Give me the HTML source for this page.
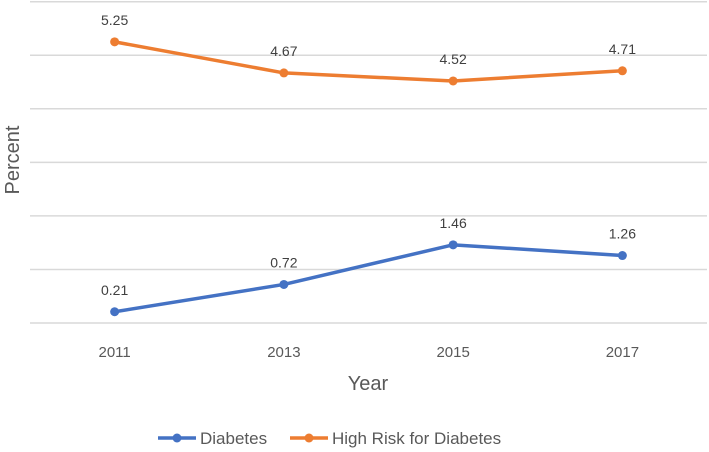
<!DOCTYPE html>
<html><head><meta charset="utf-8"><style>
body{margin:0;background:#fff;}
svg{display:block;font-family:"Liberation Sans",sans-serif;}
</style></head><body>
<svg id="c" width="709" height="452"></svg>
<script>
const categories=["2011","2013","2015","2017"];
const diabetes=[0.21,0.72,1.46,1.26];
const highRisk=[5.25,4.67,4.52,4.71];
const yTicks=[0,1,2,3,4,5,6];
const NS="http://www.w3.org/2000/svg";
const svg=document.getElementById('c');
const x0=30,x1=707,y0=323,yTop=1.7;
const xs=i=>x0+(x1-x0)/categories.length*(i+0.5);
const ys=v=>y0-(y0-yTop)*v/6;
function mk(t,a,p){const e=document.createElementNS(NS,t);for(const k in a)e.setAttribute(k,a[k]);(p||svg).appendChild(e);return e;}
yTicks.forEach(v=>{
const l=mk('line',{x1:x0,x2:x1,y1:ys(v),y2:ys(v),stroke:'#d9d9d9','stroke-width':1.5});


});
categories.forEach((c,i)=>{
const t=mk('text',{x:xs(i),y:357,'text-anchor':'middle','font-size':15,fill:'#595959'});t.textContent=c;


});
function series(data,color,name){
const g=mk('g',{});


mk('polyline',{points:data.map((v,i)=>xs(i)+','+ys(v)).join(' '),fill:'none',stroke:color,'stroke-width':3.5,'stroke-linejoin':'round'},g);
data.forEach((v,i)=>{
const p=mk('circle',{cx:xs(i),cy:ys(v),r:4.5,fill:color},g);


const t=mk('text',{x:xs(i),y:ys(v)-17,'text-anchor':'middle','font-size':14,fill:'#404040'},g);t.textContent=v.toFixed(2);


});
}
series(highRisk,'#ed7d31','high-risk-series');
series(diabetes,'#4472c4','diabetes-series');
</script>
<script>
const s2=document.getElementById('c');
s2.insertAdjacentHTML('beforeend',`
<text x="0" y="0" transform="translate(19,160) rotate(-90)" text-anchor="middle" font-size="20" fill="#595959">Percent</text>
<text x="368" y="390" text-anchor="middle" font-size="20" fill="#595959">Year</text>
<g><line x1="158" x2="196" y1="438" y2="438" stroke="#4472c4" stroke-width="3.5"/><circle cx="177" cy="438" r="4.5" fill="#4472c4"/><text x="200" y="444" font-size="17" fill="#595959">Diabetes</text></g>
<g><line x1="290" x2="328" y1="438" y2="438" stroke="#ed7d31" stroke-width="3.5"/><circle cx="309" cy="438" r="4.5" fill="#ed7d31"/><text x="332" y="444" font-size="17" fill="#595959">High Risk for Diabetes</text></g>`);
</script>
</body></html>
